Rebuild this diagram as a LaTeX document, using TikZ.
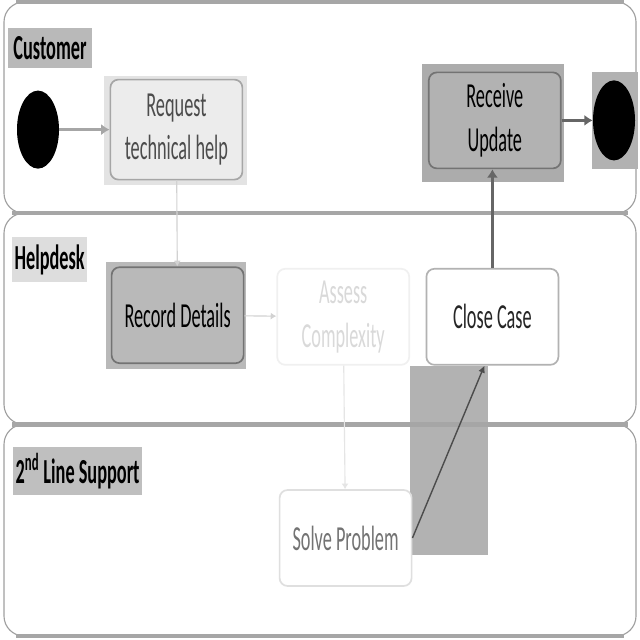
\documentclass[tikz,border=0pt]{standalone}
\usepackage{fontspec}
\setmainfont[FakeStretch=0.52]{Carlito}
\usetikzlibrary{shapes.geometric,arrows.meta}

\begin{document}
\begin{tikzpicture}[
  lane/.style={draw=gray!75, line width=0.8pt, fill=white, rounded corners=0.5cm},
  lanesep/.style={draw=gray!70, line width=3pt},
  lanelabel/.style={font=\fontsize{25}{28}\selectfont\bfseries, inner sep=2pt, align=center},
  act/.style={rounded corners=0.2cm, line width=1.2pt, minimum width=3.3cm, minimum height=2.4cm, align=center, font=\fontsize{25}{31}\selectfont},
  startend/.style={ellipse, fill=black, minimum width=1.05cm, minimum height=1.95cm, inner sep=0pt},
  flow/.style={line width=2.5pt, -{Latex[length=6pt,width=8pt]}},
  weak/.style={draw=gray!35, line width=0.8pt, -{Latex[length=4pt,width=5pt]}}]
\useasboundingbox (0,0) rectangle (16,-16);

% swimlanes
\draw[lane] (0.1,-0.05) rectangle (15.9,-5.33);
\draw[lane] (0.1,-5.33) rectangle (15.9,-10.61);
\draw[lane] (0.1,-10.61) rectangle (15.9,-15.9);

% shaded patches
\fill[gray!22] (2.6,-1.9) rectangle (6.175,-4.625);
\fill[gray!65] (10.55,-1.6) rectangle (14.1,-4.55);
\fill[gray!60] (14.8,-1.8) rectangle (15.95,-4.225);
\fill[gray!55] (2.65,-6.55) rectangle (6.15,-9.225);
\fill[gray!60] (10.25,-9.15) rectangle (12.2,-13.875);

\draw[lanesep] (0.4,-0.05) -- (15.6,-0.05);
\draw[lanesep] (0.3,-5.33) -- (15.7,-5.33);
\draw[lanesep] (0.3,-10.61) -- (15.7,-10.61);
\draw[lanesep] (0.4,-15.9) -- (15.6,-15.9);

\node[lanelabel, fill=gray!55, minimum width=2.1cm, minimum height=1cm] (cust) at (1.25,-1.2) {Customer};
\node[lanelabel, fill=gray!27, minimum width=1.88cm, minimum height=1.13cm] (help) at (1.24,-6.49) {Helpdesk};
\node[lanelabel, fill=gray!50, minimum width=3.18cm, minimum height=1.2cm] (second) at (1.94,-11.78) {2\textsuperscript{nd} Line Support};

\node[startend] (start) at (0.95,-3.24) {};
\node[act, fill=gray!15, draw=gray!70, text=black!70, minimum height=2.5cm] (req) at (4.41,-3.24) {Request\\technical help};
\node[act, fill=gray!60, draw=black!55] (recv) at (12.37,-3.01) {Receive\\Update};
\node[startend, minimum height=2cm] (stop) at (15.35,-3.01) {};

\node[act, fill=gray!55, draw=black!55] (rec) at (4.44,-7.88) {Record Details};
\node[act, fill=white, draw=gray!12, text=gray!30] (assess) at (8.58,-7.92) {Assess\\Complexity};
\node[act, fill=white, draw=gray!60, text=black!85] (close) at (12.31,-7.92) {Close Case};

\node[act, fill=white, draw=gray!25, text=black!55] (solve) at (8.64,-13.45) {Solve Problem};

\draw[flow, draw=gray!70] (start) to (req);
\draw[flow, draw=black!60] (recv) to (stop);
\draw[weak] (req) to (rec);
\draw[weak] (rec) to (assess);
\draw[weak, draw=gray!20] (assess) to (solve);
\draw[line width=1pt, draw=black!70, -{Latex[length=5pt,width=5pt]}] (solve.east) to ([xshift=-0.2cm]close.south);
\draw[flow, draw=black!60] (close.north) to (close.north |- recv.south);
\end{tikzpicture}
\end{document}
